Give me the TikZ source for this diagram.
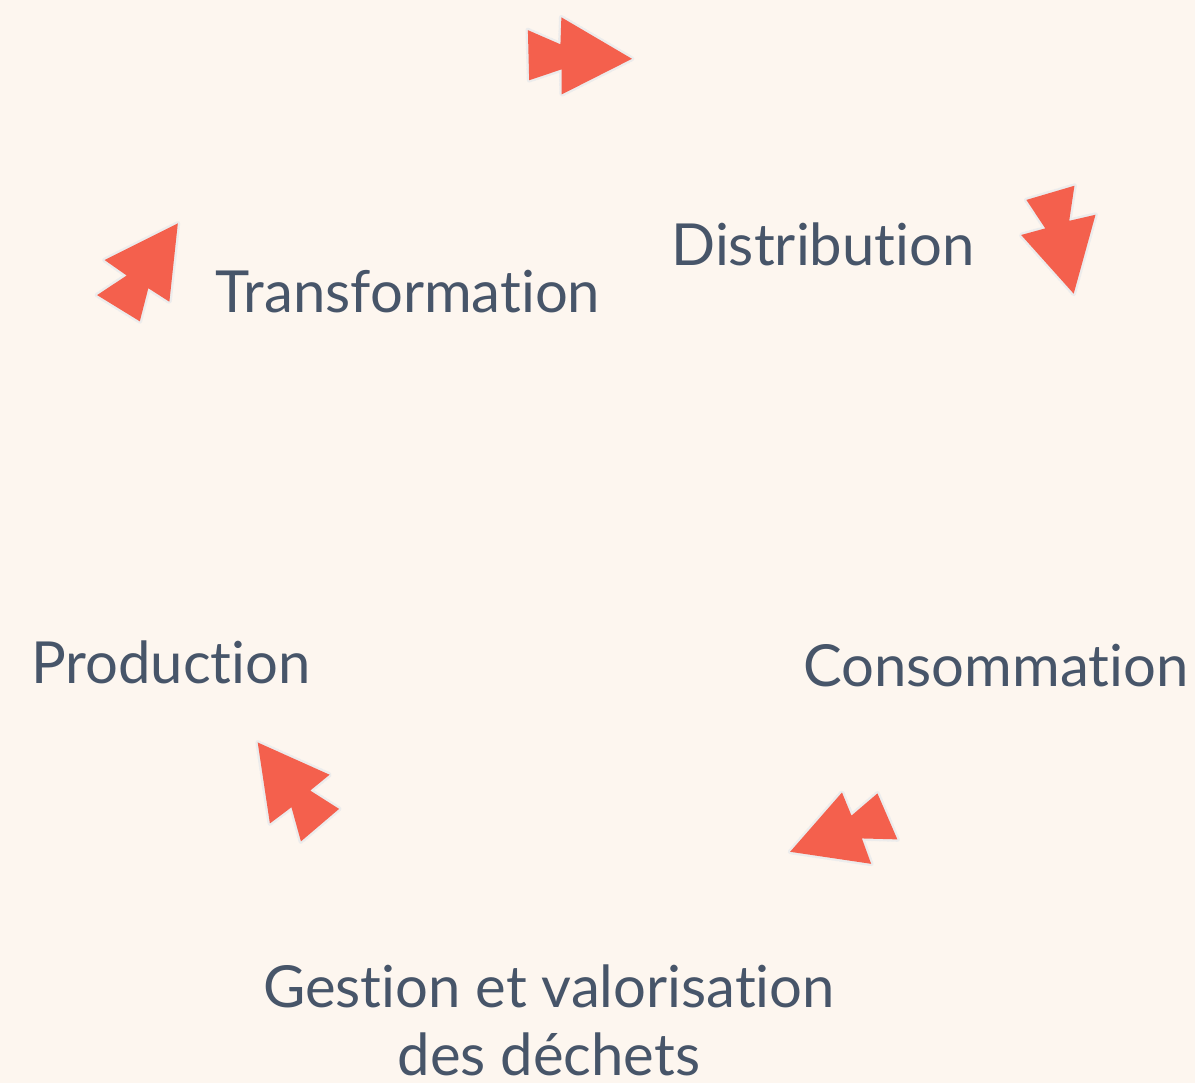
\documentclass[tikz,border=0pt]{standalone}
\usepackage{fontspec}
\setmainfont{Lato}[Ligatures=NoCommon]
\definecolor{bgcream}{RGB}{253,246,239}
\definecolor{slatetext}{RGB}{71,85,105}
\definecolor{arrowred}{RGB}{244,96,77}
\tikzset{
  ffarrow/.pic={
    \draw[line width=2.4pt, white!85!gray, dash pattern=on 1.2pt off .8pt, line join=round]
      (-53,25)--(-20,12)--(-20,39)--(52,0)--(-17,-38)--(-18,-13)--(-50,-25)--cycle;
    \fill[arrowred, line join=round]
      (-53,25)--(-20,12)--(-20,39)--(52,0)--(-17,-38)--(-18,-13)--(-50,-25)--cycle;
  }
}
\begin{document}
\begin{tikzpicture}[x=.5pt, y=.5pt, line join=round, line cap=round,
    stage/.style={anchor=base, text=slatetext, font=\fontsize{29}{34}\selectfont, inner sep=0pt, align=center}]
    \fill[bgcream] (0,0) rectangle (1195,-1083);
    \useasboundingbox (0,0) rectangle (1195,-1083);
    % stages of the cycle
    \node[stage] (transfo) at (408,-312) {Transformation};
    \node[stage] (distrib) at (823,-265) {Distribution};
    \node[stage] (prod) at (171,-683) {Production};
    \node[stage] (conso) at (996,-686) {Consommation};
    \node[stage, anchor=north] (dechets) at (549,-964) {Gestion et valorisation\\des déchets};
    % arrows between the stages
    \foreach \px/\py/\ang in {580/57/-2, 1062/243/-77, 839/834/200, 289/784/127, 148/266/55}
    \pic[rotate=\ang] at (\px,-\py) {ffarrow};
\end{tikzpicture}
\end{document}
